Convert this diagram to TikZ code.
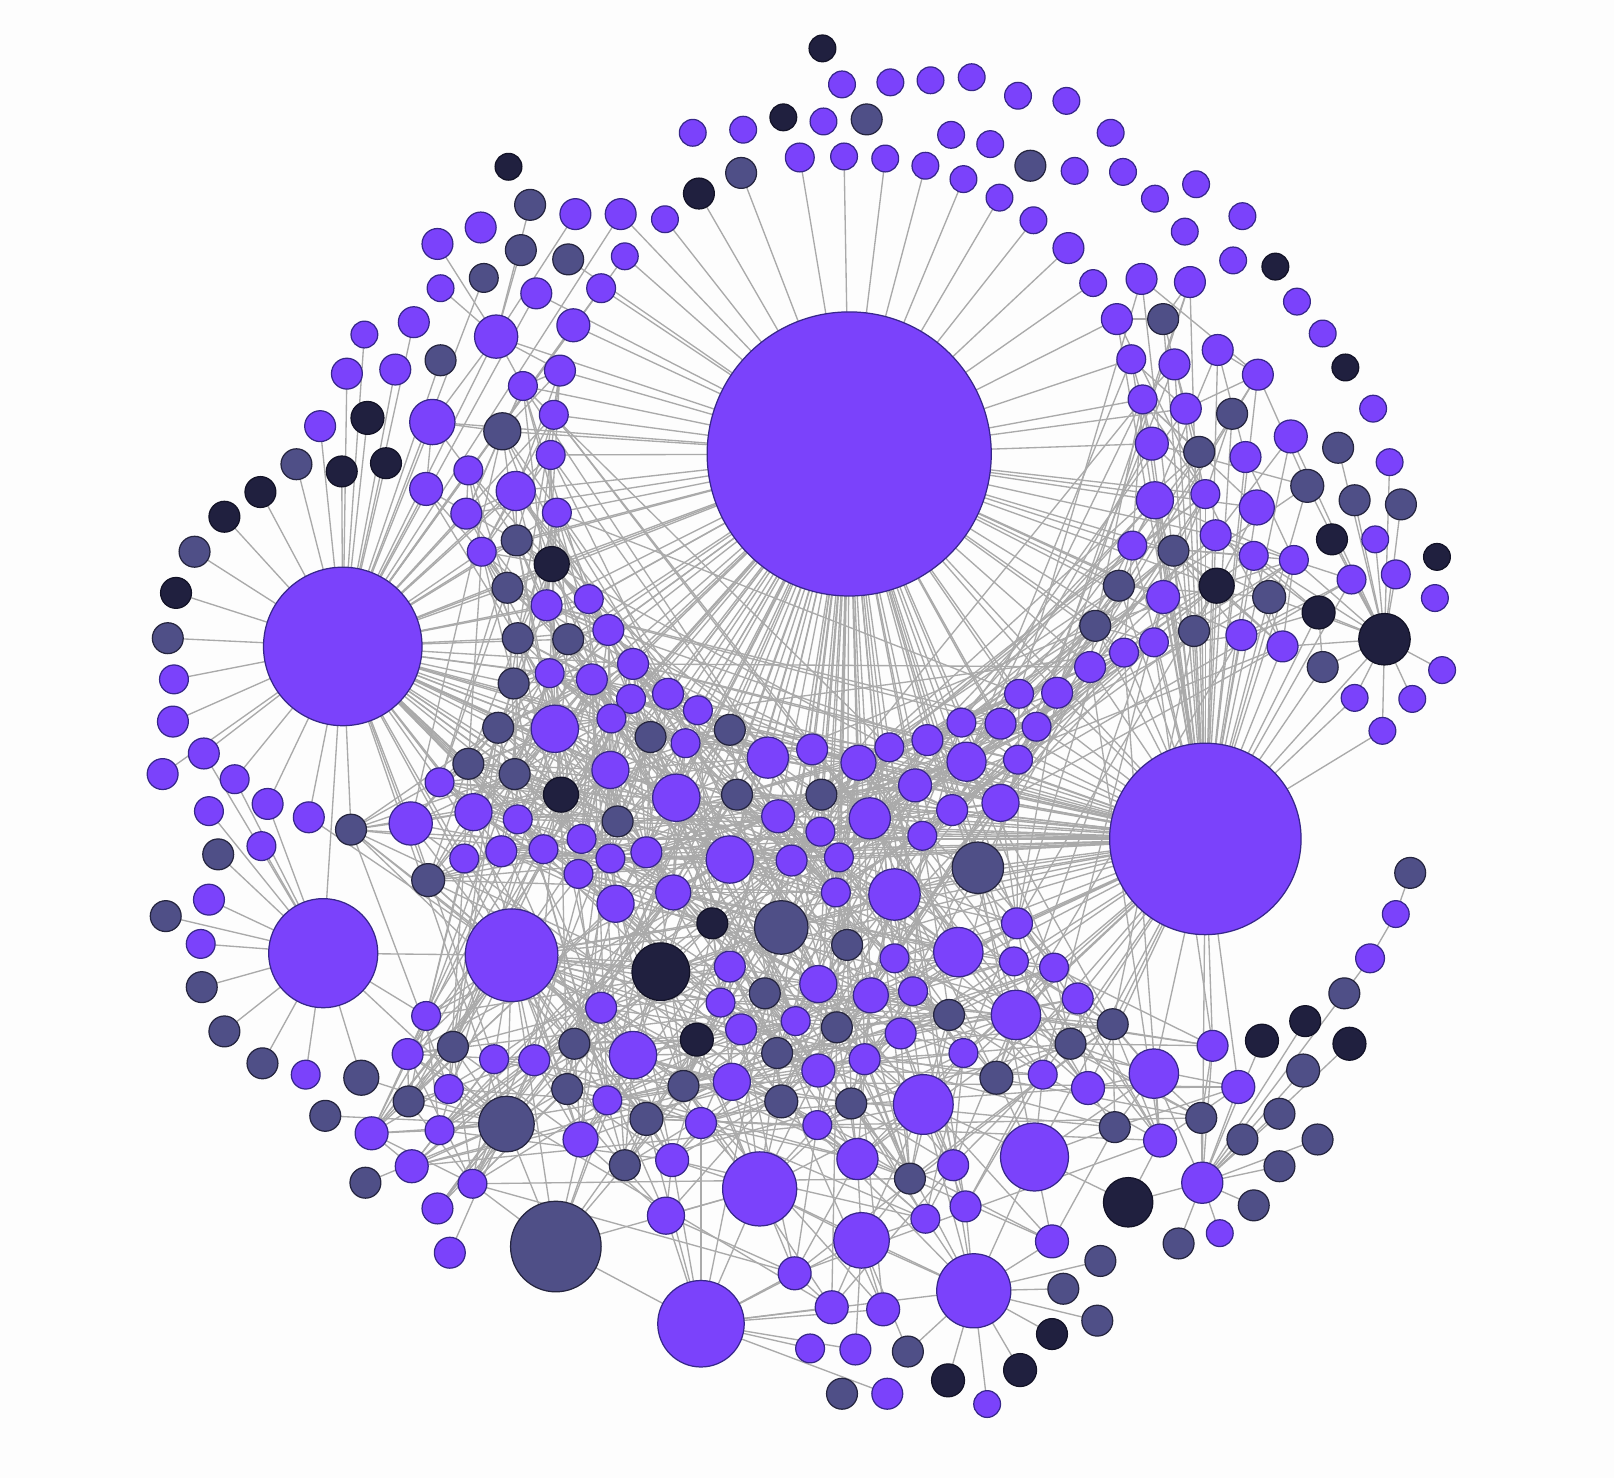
\documentclass[tikz,border=0pt]{standalone}
\definecolor{pu}{HTML}{7B42FB}
\definecolor{puB}{HTML}{37278A}
\definecolor{sl}{HTML}{4F4F87}
\definecolor{slB}{HTML}{25253F}
\definecolor{dk}{HTML}{20203F}
\definecolor{dkB}{HTML}{121226}
\definecolor{ed}{HTML}{AAAAAA}
\definecolor{paper}{HTML}{FDFDFD}
\tikzset{
  vtx/.style={circle, inner sep=0pt, outer sep=0pt, line width=0.6pt},
  P/.style={vtx, fill=pu, draw=puB},
  S/.style={vtx, fill=sl, draw=slB},
  D/.style={vtx, fill=dk, draw=dkB},
  link/.style={draw=ed, line width=0.65pt},
}
\def\nX{X}
\newcommand\spoke[2]{\edef\hh{#2}\ifx\hh\nX\else\draw[link] (#1) -- (\hh);\fi}
\def\hublist{
A/825/441/138/P, B/333/628/77/P, C/1171/815/93/P, D/314/926/53/P, E/497/928/45/P,
F/540/1211/44/S, G/681/1286/42/P, H/946/1254/36/P, I/738/1155/36/P, J/1005/1124/33/P,
K/897/1073/29/P, L/837/1205/27/P, M/1121/1043/24/P, N/1096/1168/24/D, O/1345/621/25/D,
Q/1168/1149/20/P, R/492/1092/27/S, T/642/944/28/D, U/759/901/26/S, V/950/843/25/S,
W/869/869/25/P, Y/482/327/21/P, Z/420/410/22/P,
ra/1370/848/15/S, rb/1356/888/13/P, rc/1331/931/14/P, rd/1306/965/15/S}
\def\perlist{
799/47/13/D/X/X, 818/82/13/P/X/X, 865/80/13/P/X/X, 904/78/13/P/X/X, 944/75/13/P/X/X,
989/93/13/P/X/X, 1036/98/13/P/X/X, 1079/129/13/P/X/X, 761/114/13/D/X/X, 800/118/13/P/X/X,
842/116/15/S/X/X, 673/129/13/P/X/X, 722/126/13/P/X/X, 924/131/13/P/X/X, 962/140/13/P/X/X,
1001/161/15/S/X/X, 1044/166/13/P/X/X, 1091/167/13/P/X/X, 1122/193/13/P/X/X, 1162/179/13/P/X/X,
1207/210/13/P/X/X, 1151/225/13/P/X/X, 1198/253/13/P/X/X, 1239/259/13/D/X/X, 1260/293/13/P/X/X,
1285/324/13/P/X/X, 1307/357/13/D/X/X, 494/162/13/D/X/X,
777/153/14/P/A/X, 820/152/13/P/A/X, 860/154/13/P/A/X, 899/161/13/P/A/X, 936/174/13/P/A/X,
971/192/13/P/A/X, 1004/214/13/P/A/X, 1038/241/15/P/A/X, 1062/275/13/P/A/X,
679/188/15/D/A/X, 720/168/15/S/A/X, 646/213/13/P/A/X, 603/208/15/P/A/B, 607/249/13/P/A/B,
559/208/15/P/Y/X, 584/280/14/P/A/B, 521/285/15/P/A/B, 552/252/15/S/A/X, 557/316/16/P/A/B,
515/199/15/S/Y/X, 506/243/15/S/Y/X, 467/221/15/P/X/X, 425/237/15/P/Y/X, 470/270/14/S/B/X,
428/280/13/P/Y/X, 402/313/15/P/B/X, 354/325/13/P/B/X, 384/359/15/P/B/X, 428/350/15/S/B/X,
337/363/15/P/B/X, 311/414/15/P/B/X, 357/406/16/D/B/X, 288/451/15/S/B/X, 332/458/15/D/B/X,
375/450/15/D/B/X, 253/478/15/D/B/X, 218/502/15/D/B/X, 189/536/15/S/B/X, 171/576/15/D/B/X,
163/620/15/S/B/X, 169/660/14/P/B/X, 168/701/15/P/B/X, 158/752/15/P/B/X, 198/732/15/P/B/D,
228/757/14/P/B/D, 203/788/14/P/D/X, 260/781/15/P/B/D, 300/794/15/P/B/E, 254/822/14/P/D/X,
212/830/15/S/D/X, 203/874/15/P/D/X, 161/890/15/S/D/X, 195/917/14/P/D/X, 196/959/15/S/D/X,
218/1002/15/S/D/X, 255/1033/15/S/D/X, 297/1044/14/P/D/X, 316/1084/15/S/R/X, 355/1149/15/S/R/X,
437/1217/15/P/R/X, 351/1047/17/S/D/R,
1300/435/15/S/O/X, 1316/486/15/S/O/X, 1294/524/15/D/O/X, 1336/524/13/P/O/X, 1356/558/14/P/O/X,
1334/397/13/P/X/X, 1350/449/13/P/O/X, 1361/490/15/S/O/X, 1396/541/13/D/X/X, 1394/581/13/P/X/X,
1401/651/13/P/O/X, 1372/679/13/P/O/X, 1343/710/13/P/C/O, 1316/678/13/P/O/C,
1069/1225/15/S/H/X, 1033/1252/15/S/H/X, 1066/1283/15/S/H/X, 1022/1296/15/D/H/X, 991/1331/16/D/H/X,
959/1364/13/P/H/X, 921/1341/16/D/H/X, 862/1354/15/P/G/X, 818/1354/15/S/X/X, 882/1313/15/S/L/H,
831/1311/15/P/G/L, 787/1310/14/P/G/X,
1226/1011/16/D/Q/X, 1268/992/15/D/Q/X, 1311/1014/16/D/Q/X, 1266/1040/16/S/Q/X, 1243/1082/15/S/Q/X,
1207/1107/15/S/Q/X, 1243/1133/15/S/Q/X, 1280/1107/15/S/Q/X, 1218/1171/15/S/Q/X, 1185/1198/13/P/Q/X,
1145/1208/15/S/Q/X}
\def\cenlist{
501/477/19/P/B/A, 455/457/14/P/B/Z, 414/475/16/P/B/Z, 453/499/15/P/B/A, 468/536/14/P/B/A,
502/525/15/S/B/A, 488/419/18/S/Z/A, 535/442/14/P/A/B, 538/403/14/P/A/B, 508/375/14/P/A/Y,
544/360/15/P/A/Y, 541/498/14/P/A/B, 536/548/17/D/A/B, 493/571/15/S/B/A, 531/588/15/P/A/B,
572/582/14/P/A/B, 591/612/15/P/A/C, 552/621/15/S/B/A, 503/620/15/S/B/A, 534/654/14/P/A/B,
575/660/15/P/A/B, 615/645/15/P/A/B, 613/679/14/P/A/C, 594/698/14/P/A/B, 649/674/15/P/A/C,
678/690/14/P/A/C, 709/709/15/S/A/C, 666/722/14/P/A/B, 632/716/15/S/A/B, 539/708/23/P/A/B,
593/748/18/P/A/B, 545/772/17/D/B/A, 500/752/15/S/B/A, 484/707/15/S/B/A, 499/664/15/S/B/A,
455/742/15/S/B/C, 427/760/14/P/B/C, 460/789/18/P/B/C, 503/796/14/P/B/C, 451/834/14/P/B/C,
487/827/15/P/B/A, 528/825/14/P/B/A, 565/815/14/P/B/C, 600/798/15/S/A/B, 593/834/14/P/A/C,
628/828/15/P/A/B, 562/849/14/P/B/C, 598/878/18/P/A/B, 654/867/17/P/A/B, 657/775/23/P/A/B,
709/835/23/P/A/C, 716/772/15/S/A/C, 746/736/20/P/A/C, 789/728/15/P/A/C, 834/741/17/P/A/C,
864/726/14/P/A/C, 901/719/15/P/A/C, 934/702/14/P/A/C, 972/703/15/P/A/C, 1007/706/14/P/A/C,
989/738/14/P/A/C, 939/740/19/P/A/C, 889/763/16/P/A/C, 925/787/15/P/A/C, 972/780/18/P/A/C,
896/812/14/P/A/C, 845/795/20/P/A/C, 798/772/15/S/A/C, 756/793/16/P/A/B, 797/808/14/P/A/C,
769/836/15/P/A/B, 815/833/14/P/A/C, 812/867/14/P/A/C,
990/674/14/P/A/C, 1027/673/15/P/A/C, 1059/648/15/P/A/C, 1092/634/14/P/A/C, 1121/624/14/P/C/A,
1064/608/15/S/A/C, 1087/569/15/S/A/C, 1100/530/14/P/A/C, 1140/535/15/S/C/A, 1130/580/16/P/C/A,
1122/486/18/P/A/C, 1119/431/16/P/A/C, 1110/388/14/P/A/C, 1099/349/14/P/A/C, 1085/310/15/P/A/C,
1109/271/15/P/C/X, 1156/274/15/P/C/X, 1130/310/15/S/C/X, 1141/354/15/P/C/X, 1183/340/15/P/C/X,
1222/364/15/P/C/X, 1152/397/15/P/C/A, 1197/402/15/S/C/X, 1165/439/15/S/C/X, 1210/444/15/P/C/X,
1254/424/16/P/C/O, 1270/472/16/S/C/O, 1171/480/14/P/C/A, 1221/493/17/P/C/A, 1181/520/15/P/C/A,
1218/540/14/P/C/O, 1257/544/14/P/C/O, 1313/563/14/P/O/C, 1285/648/15/S/C/O, 1281/595/16/D/C/O,
1246/628/15/P/C/O, 1206/617/15/P/C/A, 1233/580/16/S/C/O, 1182/569/17/D/C/A, 1160/613/15/S/C/A,
988/897/15/P/C/A, 985/934/14/P/C/A, 1024/940/14/P/C/X, 1047/970/15/P/C/X, 1081/995/15/S/C/M,
1040/1014/15/S/C/M, 1057/1057/16/P/C/M, 1013/1044/14/P/C/J, 968/1047/16/S/C/J, 987/986/24/P/C/A,
931/925/24/P/C/A, 936/1023/14/P/C/K, 922/986/15/S/C/K, 875/1004/15/P/A/K, 887/963/14/P/A/C,
869/931/14/P/A/C, 846/967/17/P/A/C, 823/918/15/S/A/C, 795/956/18/P/A/E, 813/998/15/S/A/K,
840/1029/15/P/A/K, 827/1072/15/S/K/I, 795/1040/16/P/A/I, 794/1093/14/P/I/K, 759/1070/16/S/I/E,
755/1023/15/S/A/I, 773/992/14/P/A/E, 743/965/15/S/A/E, 720/1000/15/P/E/I, 700/974/14/P/A/E,
709/939/15/P/A/E, 692/897/15/D/A/E, 677/1010/16/D/E/I, 711/1051/18/P/I/E, 681/1091/15/P/I/G,
664/1055/15/S/E/I, 628/1087/16/S/E/G, 653/1127/16/P/I/G, 647/1181/18/P/G/I, 607/1132/15/S/F/E,
564/1107/17/P/F/E, 590/1069/14/P/E/F, 551/1058/15/S/E/R, 558/1014/15/S/E/A, 519/1030/15/P/E/R,
480/1029/14/P/E/R, 615/1025/23/P/E/A, 584/979/15/P/E/A, 833/1126/20/P/K/L, 884/1145/15/S/K/L,
926/1132/15/P/K/H, 938/1172/15/P/H/K, 899/1184/14/P/H/L, 1022/1206/16/P/H/J, 772/1237/16/P/G/I,
808/1270/16/P/G/L, 858/1272/16/P/L/G, 1083/1095/15/S/M/J, 1127/1108/16/P/M/N, 1167/1086/15/S/Q/M,
1203/1056/16/P/Q/C, 1178/1016/15/P/Q/C,
414/987/14/P/E/D, 396/1024/15/P/E/R, 440/1017/15/S/E/R, 436/1058/14/P/E/R, 397/1070/15/S/R/E,
427/1098/14/P/R/X, 459/1150/14/P/R/F, 361/1101/16/P/R/E, 400/1133/16/P/R/X, 425/1174/15/P/R/X,
416/855/16/S/B/E, 399/800/21/P/B/E, 341/806/15/S/B/E}
\begin{document}
\begin{tikzpicture}[x=0.5pt,y=-0.5pt]
\fill[paper] (0,0) rectangle (1568,1436);
\useasboundingbox (0,0) rectangle (1568,1436);
% ---------- positions ----------
\foreach \nm/\x/\y/\r/\t in \hublist {\coordinate (\nm) at (\x,\y);}
\foreach \x/\y/\r/\t/\ha/\hb [count=\i] in \perlist {\coordinate (p\i) at (\x,\y);}
\foreach \x/\y/\r/\t/\ha/\hb [count=\i] in \cenlist {\coordinate (c\i) at (\x,\y);
 \expandafter\xdef\csname cx\i\endcsname{\x}%
 \expandafter\xdef\csname cy\i\endcsname{\y}%
 \xdef\NC{\i}}
% ---------- connectors ----------
\foreach \a/\b in {A/B, A/C, A/E, A/U, A/W, A/V, A/T, A/Y, A/Z, B/D, B/E, B/Y, B/Z, B/T, B/R,
C/E, C/W, C/V, C/M, C/K, C/J, C/Q, C/O, C/U, C/T, D/E, D/R, E/T, E/R, E/F, E/U, F/G, F/I, F/R,
G/I, G/L, H/J, H/L, H/K, H/I, I/L, I/K, J/K, J/N, J/M, M/Q, N/Q, U/T, U/W, V/W, K/W, I/T, L/K,
Y/Z, G/H, ra/rb, rb/rc, rc/rd, rd/Q, F/T, R/T, K/U, J/V, M/V, W/T, E/K, B/V, B/W, F/U, G/U, H/U, H/T}
{\draw[link] (\a) -- (\b);}
\foreach \x/\y/\r/\t/\ha/\hb [count=\i] in \perlist {\spoke{p\i}{\ha}\spoke{p\i}{\hb}}
\foreach \x/\y/\r/\t/\ha/\hb [count=\i] in \cenlist {\spoke{c\i}{\ha}\spoke{c\i}{\hb}}
\pgfmathsetseed{20240}
\foreach \i in {1,...,\NC}{
  \edef\ia{\the\numexpr\i+1\relax}
  \ifnum\ia>\NC\else
  \foreach \j in {\ia,...,\NC}{
    \edef\dx{\the\numexpr\csname cx\i\endcsname-\csname cx\j\endcsname\relax}
    \edef\dy{\the\numexpr\csname cy\i\endcsname-\csname cy\j\endcsname\relax}
    \edef\dsq{\the\numexpr(\dx)*(\dx)+(\dy)*(\dy)\relax}
    % right upper cluster is sparser
    \def\pl{36}\def\pf{55}
    \ifnum\csname cx\i\endcsname>1075 \ifnum\csname cy\i\endcsname<660
      \ifnum\csname cx\j\endcsname>1075 \ifnum\csname cy\j\endcsname<660 \def\pl{14}\def\pf{10}\fi\fi\fi\fi
    \ifnum\dsq<25600
      \pgfmathrandominteger{\rr}{1}{100}
      \ifnum\rr<\pl\relax \draw[link] (c\i) -- (c\j);\fi
    \else\ifnum\dsq<250000
      \pgfmathrandominteger{\rr}{1}{1000}
      \ifnum\rr<\pf\relax \draw[link] (c\i) -- (c\j);\fi
    \fi\fi
  }\fi
}
% ---------- vertices ----------
\foreach \nm/\x/\y/\r/\t in \hublist
{\edef\tmp{\noexpand\node[\t,minimum size=\r pt] (v\nm) at (\nm) {};}\tmp}
\foreach \x/\y/\r/\t/\ha/\hb [count=\i] in \perlist
{\edef\tmp{\noexpand\node[\t,minimum size=\r pt] (vp\i) at (p\i) {};}\tmp}
\foreach \x/\y/\r/\t/\ha/\hb [count=\i] in \cenlist
{\edef\tmp{\noexpand\node[\t,minimum size=\r pt] (vc\i) at (c\i) {};}\tmp}
\end{tikzpicture}
\end{document}
